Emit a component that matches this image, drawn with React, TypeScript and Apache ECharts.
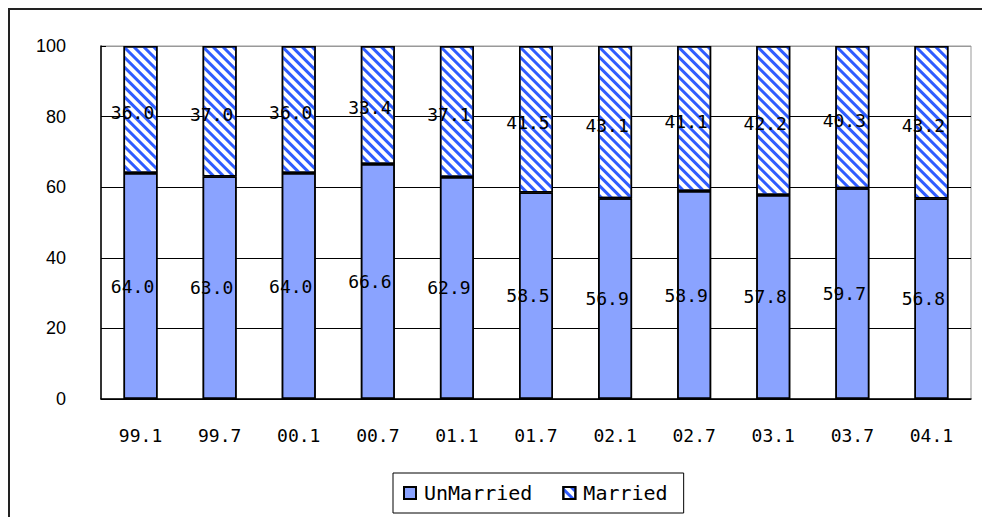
import React, { useEffect, useRef } from "react";
import * as echarts from "echarts";

const categories = ["99.1", "99.7", "00.1", "00.7", "01.1", "01.7", "02.1", "02.7", "03.1", "03.7", "04.1"];
const unmarried = [64.0, 63.0, 64.0, 66.6, 62.9, 58.5, 56.9, 58.9, 57.8, 59.7, 56.8];
const married = [36.0, 37.0, 36.0, 33.4, 37.1, 41.5, 43.1, 41.1, 42.2, 40.3, 43.2];
const yTicks = [0, 20, 40, 60, 80, 100];

const MONO = "'DejaVu Sans Mono', monospace";

export default function App() {
  const ref = useRef<HTMLDivElement>(null);
  useEffect(() => {
    if (!ref.current) return;
    const chart = echarts.init(ref.current, null, { renderer: "svg" });
    const labelCommon = {
      show: true,
      position: "inside",
      color: "#000",
      fontFamily: MONO,
      fontSize: 18,
      formatter: (p: any) => Number(p.value).toFixed(1),
    };
    chart.setOption({
      animation: false,
      backgroundColor: "#fff",
      aria: { enabled: true, decal: { show: true } },
      graphic: [
        {
          type: "rect",
          shape: { x: 9, y: 9, width: 1100, height: 700 },
          style: { fill: "none", stroke: "#222", lineWidth: 2 },
          silent: true,
        },
      ],
      grid: { left: 101, right: 11, top: 46, bottom: 118, show: true, borderColor: "#999", borderWidth: 1 },
      legend: {
        left: 393,
        top: 473,
        padding: [10, 16, 10, 10],
        borderColor: "#000",
        borderWidth: 1,
        icon: "rect",
        itemWidth: 12,
        itemHeight: 12,
        itemGap: 30,
        textStyle: { fontFamily: MONO, fontSize: 20, color: "#000", padding: [0, 0, 0, 3] },
        data: ["UnMarried", "Married"],
      },
      xAxis: {
        type: "category",
        data: categories,
        axisLine: { lineStyle: { color: "#000", width: 1.5 } },
        axisTick: { inside: true, length: 5, lineStyle: { color: "#000" } },
        axisLabel: { color: "#000", fontFamily: MONO, fontSize: 18, margin: 27 },
      },
      yAxis: {
        type: "value",
        min: yTicks[0],
        max: yTicks[yTicks.length - 1],
        interval: 20,
        axisLine: { show: true, lineStyle: { color: "#000", width: 1.5 } },
        axisTick: { show: true, inside: true, length: 5, lineStyle: { color: "#000" } },
        axisLabel: { color: "#000", fontFamily: "'Liberation Sans', Arial, sans-serif", fontSize: 18, margin: 35 },
        splitLine: { show: true, lineStyle: { color: ["#000", "#000", "#000", "#000", "#000", "#999"], width: 1 } },
      },
      series: [
        {
          name: "UnMarried",
          type: "bar",
          stack: "total",
          barWidth: 34,
          data: unmarried,
          itemStyle: {
            color: "#8aa3ff",
            borderColor: "#000",
            borderWidth: 1.5,
            decal: {
              symbol: "rect",
              symbolSize: 1,
              symbolKeepAspect: false,
              color: "rgba(0,0,0,0)",
              dashArrayX: [1, 0],
              dashArrayY: [1, 0],
              rotation: 0,
              maxTileWidth: 512,
              maxTileHeight: 512,
            },
          },
          label: { ...labelCommon, offset: [-8, 0] },
        },
        {
          name: "Married",
          type: "bar",
          stack: "total",
          barWidth: 34,
          data: married,
          itemStyle: {
            color: "#ffffff",
            borderColor: "#000",
            borderWidth: 1.5,
            decal: {
              symbol: "rect",
              symbolSize: 1,
              symbolKeepAspect: false,
              color: "#2f5cff",
              dashArrayX: [1, 0],
              dashArrayY: [3, 3.5],
              rotation: Math.PI / 4,
              maxTileWidth: 512,
              maxTileHeight: 512,
            },
          },
          label: { ...labelCommon, offset: [-8, 3] },
        },
      ],
    });
    return () => chart.dispose();
  }, []);
  return (
    <div
      ref={ref}
      style={{ position: "fixed", left: 0, top: 0, width: 982, height: 517 }}
    />
  );
}
